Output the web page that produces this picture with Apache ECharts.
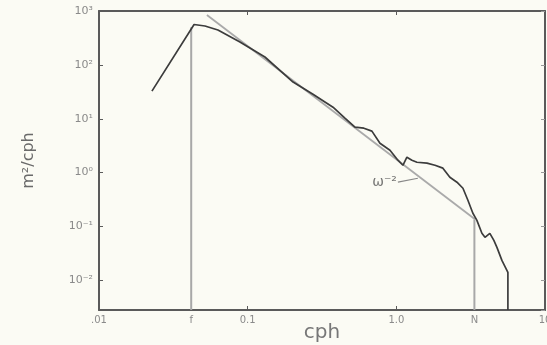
<!DOCTYPE html>
<html>
<head>
<meta charset="utf-8">
<script src="https://cdn.jsdelivr.net/npm/echarts@6/dist/echarts.min.js"></script>
<style>
html,body{margin:0;padding:0;background:#fbfbf4;}
#chart{width:547px;height:345px;}
</style>
</head>
<body>
<div id="chart"></div>
<script>
// ---- data ----
const freqCph = [0.0227,0.0436,0.0516,0.0631,0.0887,0.1306,0.202,0.275,0.375,0.451,0.527,0.605,0.685,0.776,0.906,1.025,1.107,1.178,1.273,1.376,1.607,1.820,2.057,2.291,2.557,2.806,3.030,3.273,3.483,3.764,3.945,4.256,4.529,4.750,5.130,5.629,5.629];
const spectrum = [32.6,561,526,444,265,140,47.9,28.6,16.4,10.3,6.98,6.68,5.89,3.52,2.61,1.70,1.37,1.93,1.70,1.56,1.50,1.37,1.21,0.821,0.664,0.513,0.307,0.176,0.130,0.0748,0.0630,0.0748,0.0553,0.0410,0.0235,0.0141,0.00282];
const fitFreq = [0.0532, 3.38];
const fitValue = [843, 0.136];
const F_CPH = 0.0417;
const N_CPH = 3.35;
const fLineValue = [500, 0.00282];
const nLineValue = [0.135, 0.00282];
const pointerFreq = [1.025, 1.396];
const pointerValue = [0.664, 0.787];
const labelText = '\u03C9\u207B\u00B2';
const xTickValues = [0.01, F_CPH, 0.1, 1, N_CPH, 10];
const xTickLabels = ['.01', 'f', '0.1', '1.0', 'N', '10'];
const yTickExponents = [-2, -1, 0, 1, 2, 3];
const yTickLabels = ['10\u207B\u00B2', '10\u207B\u00B9', '10\u2070', '10\u00B9', '10\u00B2', '10\u00B3'];
const Y_MIN = 0.00282, Y_MAX = 1000, X_MIN = 0.01, X_MAX = 10;

const zip = (a, b) => a.map((v, i) => [v, b[i]]);

const chart = echarts.init(document.getElementById('chart'));
const axisCol = '#5a5a5a';
const labelCol = '#8a8a8a';
const font = 'DejaVu Sans, Liberation Sans, sans-serif';

function xLabel(v) {
  for (let i = 0; i < xTickValues.length; i++) {
    if (Math.abs(Math.log10(v) - Math.log10(xTickValues[i])) < 0.005) return xTickLabels[i];
  }
  return '';
}
function yLabel(v) {
  const l = Math.log10(v);
  const e = Math.round(l);
  if (Math.abs(l - e) > 0.01) return '';
  const i = yTickExponents.indexOf(e);
  return i >= 0 ? yTickLabels[i] : '';
}

const option = {
  backgroundColor: '#fbfbf4',
  animation: false,
  grid: { left: 99, top: 11, right: 2, bottom: 35, containLabel: false, outerBoundsMode: 'none' },
  xAxis: [{
    type: 'log', min: X_MIN, max: X_MAX, logBase: 10,
    name: 'cph', nameLocation: 'middle', nameGap: 13, nameMoveOverlap: false,
    nameTextStyle: { fontSize: 20, color: '#777', fontFamily: font },
    axisLine: { show: true, lineStyle: { color: axisCol, width: 2 } },
    axisTick: { show: true, inside: true, length: 4, lineStyle: { color: axisCol }, customValues: [0.1, 1] },
    axisLabel: { fontSize: 10, color: labelCol, fontFamily: font, margin: 5, formatter: xLabel, customValues: xTickValues, showMinLabel: true, showMaxLabel: true },
    splitLine: { show: false }, minorTick: { show: false }
  }, {
    type: 'log', min: X_MIN, max: X_MAX, position: 'top',
    axisLine: { show: true, lineStyle: { color: axisCol, width: 2 } },
    axisTick: { show: true, inside: true, length: 4, lineStyle: { color: axisCol } },
    axisLabel: { show: false }, splitLine: { show: false }
  }],
  yAxis: [{
    type: 'log', min: Y_MIN, max: Y_MAX, logBase: 10,
    name: 'm\u00B2/cph', nameLocation: 'middle', nameGap: 62, nameMoveOverlap: false,
    nameTextStyle: { fontSize: 16, color: '#6a6a6a', fontFamily: font },
    axisLine: { show: true, lineStyle: { color: axisCol, width: 2 } },
    axisTick: { show: true, inside: true, length: 4, lineStyle: { color: axisCol } },
    axisLabel: { fontSize: 11, color: labelCol, fontFamily: font, margin: 6, formatter: yLabel },
    splitLine: { show: false }
  }, {
    type: 'log', min: Y_MIN, max: Y_MAX, position: 'right',
    axisLine: { show: true, lineStyle: { color: axisCol, width: 2 } },
    axisTick: { show: true, inside: true, length: 4, lineStyle: { color: '#999' } },
    axisLabel: { show: false }, splitLine: { show: false }
  }],
  series: [
    {
      type: 'line', name: 'fit', data: zip(fitFreq, fitValue), symbol: 'none',
      lineStyle: { color: '#aaaaaa', width: 1.8 }, z: 2
    },
    {
      type: 'line', name: 'f', data: zip([F_CPH, F_CPH], fLineValue), symbol: 'none',
      lineStyle: { color: '#a8a8a8', width: 2 }, z: 2
    },
    {
      type: 'line', name: 'N', data: zip([N_CPH, N_CPH], nLineValue), symbol: 'none',
      lineStyle: { color: '#a8a8a8', width: 2 }, z: 2
    },
    {
      type: 'line', name: 'pointer', data: zip(pointerFreq, pointerValue), symbol: 'none',
      lineStyle: { color: '#888', width: 1.2 }, z: 2
    },
    {
      type: 'scatter', name: 'label', data: [[pointerFreq[0], pointerValue[0]]],
      symbolSize: 0, silent: true,
      label: { show: true, position: 'left', distance: 1, formatter: labelText, fontSize: 14, color: '#555', fontFamily: font },
      z: 4
    },
    {
      type: 'line', name: 'spectrum', data: zip(freqCph, spectrum), symbol: 'none',
      lineStyle: { color: '#3c3c3c', width: 1.7 }, z: 3
    }
  ]
};
chart.setOption(option);
</script>
</body>
</html>
